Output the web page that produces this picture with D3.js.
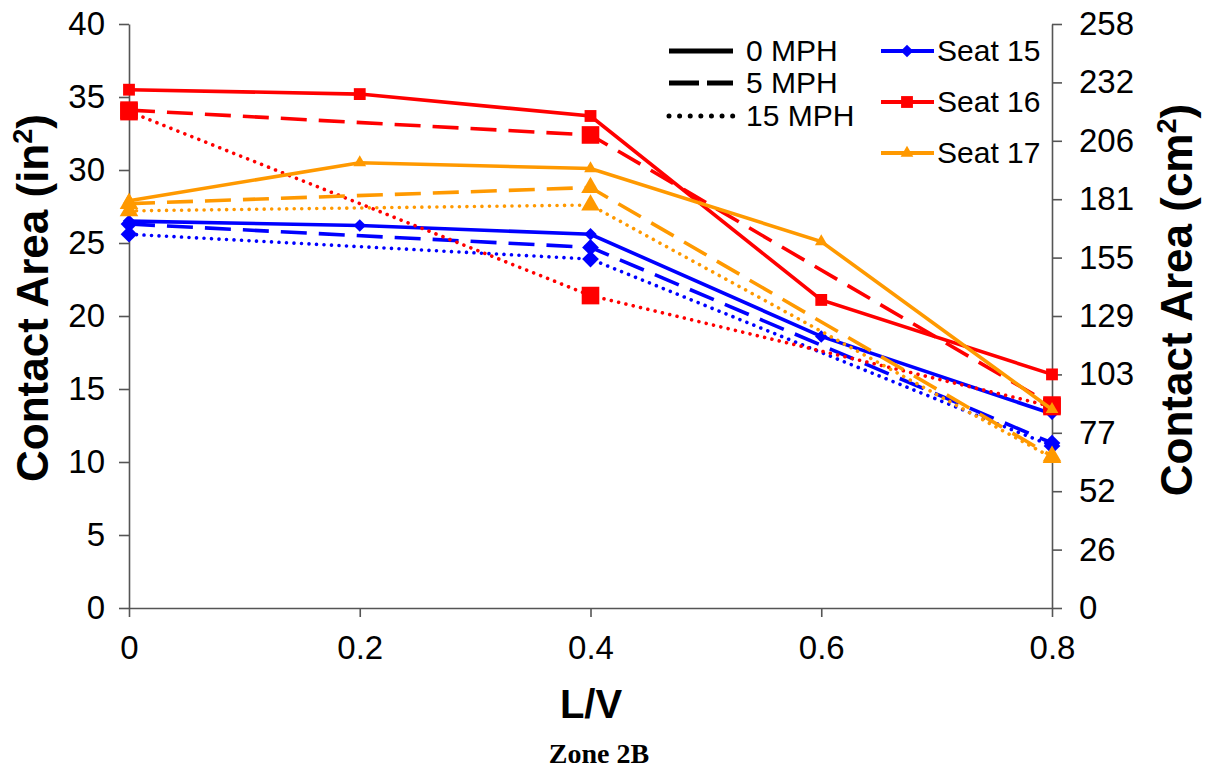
<!DOCTYPE html>
<html>
<head>
<meta charset="utf-8">
<script src="https://cdn.jsdelivr.net/npm/d3@7"></script>
<style>
  body { margin: 0; background: #ffffff; }
  svg { display: block; }
</style>
</head>
<body>
<svg id="chart" width="1205" height="772"></svg>
<script>
// L/V ratios: 0 MPH runs were measured at every ratio, 5 and 15 MPH at three.
const lvFull = [0, 0.2, 0.4, 0.6, 0.8];
const lvPartial = [0, 0.4, 0.8];

// Contact area, in^2
const seat15_0mph  = [26.5, 26.2, 25.6, 18.6, 13.3];
const seat15_5mph  = [26.3, 24.7, 11.3];
const seat15_15mph = [25.6, 23.9, 11.1];
const seat16_0mph  = [35.5, 35.2, 33.7, 21.1, 16.0];
const seat16_5mph  = [34.1, 32.4, 13.9];
const seat16_15mph = [34.0, 21.4, 13.8];
const seat17_0mph  = [27.9, 30.5, 30.1, 25.1, 13.6];
const seat17_5mph  = [27.7, 28.8, 10.4];
const seat17_15mph = [27.2, 27.6, 10.3];

const seatNames = ["Seat 15", "Seat 16", "Seat 17"];
const speedNames = ["0 MPH", "5 MPH", "15 MPH"];
const xTickValues = [0, 0.2, 0.4, 0.6, 0.8];
const inTickValues = [0, 5, 10, 15, 20, 25, 30, 35, 40];
const IN2_TO_CM2 = 6.4516;

const colors = { "Seat 15": "#0000FF", "Seat 16": "#FF0000", "Seat 17": "#FF9900" };
const shapes = { "Seat 15": "diamond", "Seat 16": "square", "Seat 17": "triangle" };
const dashes = { "0 MPH": null, "5 MPH": "26,12", "15 MPH": "0.01,7.5" };

const series = [
  { seat: "Seat 15", speed: "0 MPH",  x: lvFull,    y: seat15_0mph },
  { seat: "Seat 15", speed: "5 MPH",  x: lvPartial, y: seat15_5mph },
  { seat: "Seat 15", speed: "15 MPH", x: lvPartial, y: seat15_15mph },
  { seat: "Seat 16", speed: "0 MPH",  x: lvFull,    y: seat16_0mph },
  { seat: "Seat 16", speed: "5 MPH",  x: lvPartial, y: seat16_5mph },
  { seat: "Seat 16", speed: "15 MPH", x: lvPartial, y: seat16_15mph },
  { seat: "Seat 17", speed: "0 MPH",  x: lvFull,    y: seat17_0mph },
  { seat: "Seat 17", speed: "5 MPH",  x: lvPartial, y: seat17_5mph },
  { seat: "Seat 17", speed: "15 MPH", x: lvPartial, y: seat17_15mph }
];

const svg = d3.select("#chart");
const plot = { left: 129, right: 1052, top: 24, bottom: 608 };

const x = d3.scaleLinear().domain([0, 0.8]).range([plot.left, plot.right]);
const y = d3.scaleLinear().domain([0, 40]).range([plot.bottom, plot.top]);
const yCm = d3.scaleLinear().domain([0, 40 * IN2_TO_CM2]).range([plot.bottom, plot.top]);
const cmTickValues = d3.range(0, 11).map(i => i * 4 * IN2_TO_CM2);

const axisColor = "#555555";
const tickFont = "'Liberation Sans', Arial, sans-serif";

function styleAxis(g) {
  g.select(".domain").attr("stroke", axisColor).attr("stroke-width", 1.6);
  g.selectAll(".tick line").attr("stroke", axisColor).attr("stroke-width", 1.6);
  g.selectAll(".tick text")
    .attr("fill", "#000")
    .style("font-family", tickFont)
    .style("font-size", "33px");
}

// Axes
svg.append("g")
  .attr("transform", `translate(0,${plot.bottom})`)
  .call(d3.axisBottom(x).tickValues(xTickValues).tickFormat(d3.format("~g"))
        .tickSize(9).tickSizeOuter(0).tickPadding(19))
  .call(styleAxis);

svg.append("g")
  .attr("transform", `translate(${plot.left},0)`)
  .call(d3.axisLeft(y).tickValues(inTickValues).tickSize(10).tickSizeOuter(0).tickPadding(14))
  .call(styleAxis);

svg.append("g")
  .attr("transform", `translate(${plot.right},0)`)
  .call(d3.axisRight(yCm).tickValues(cmTickValues).tickFormat(d => Math.round(d))
        .tickSize(10).tickSizeOuter(0).tickPadding(17))
  .call(styleAxis);

// Marker path generator
function markerPath(shape, big) {
  if (shape === "square") {
    return d3.symbol().type(d3.symbolSquare).size(big ? 310 : 140)();
  }
  if (shape === "diamond") {
    return d3.symbol().type(d3.symbolSquare).size(big ? 140 : 78)();
  }
  return d3.symbol().type(d3.symbolTriangle).size(big ? 150 : 70)();
}

const line = d3.line().x(d => x(d[0])).y(d => y(d[1]));

// Series: lines then markers, in drawing order
series.forEach(s => {
  const pts = s.x.map((v, i) => [v, s.y[i]]);
  const c = colors[s.seat];
  const isSolid = s.speed === "0 MPH";
  const g = svg.append("g").attr("class", "series");
  g.append("path")
    .datum(pts)
    .attr("d", line)
    .attr("fill", "none")
    .attr("stroke", c)
    .attr("stroke-width", 3.6)
    .attr("stroke-linecap", s.speed === "15 MPH" ? "round" : "butt")
    .attr("stroke-dasharray", dashes[s.speed]);
  const shape = shapes[s.seat];
  g.selectAll("path.mark")
    .data(pts)
    .join("path")
    .attr("class", "mark")
    .attr("d", markerPath(shape, !isSolid))
    .attr("transform", d => `translate(${x(d[0])},${y(d[1])})` + (shape === "diamond" ? " rotate(45)" : ""))
    .attr("fill", c);
});

// Line-style legend
const styleLegend = svg.append("g").attr("class", "legend-speed");
speedNames.forEach((name, i) => {
  const ly = [51, 83, 116][i];
  styleLegend.append("line")
    .attr("x1", 669).attr("x2", 733).attr("y1", ly).attr("y2", ly)
    .attr("stroke", "#000")
    .attr("stroke-width", 5)
    .attr("stroke-linecap", name === "15 MPH" ? "round" : "butt")
    .attr("stroke-dasharray", name === "5 MPH" ? "30,8" : name === "15 MPH" ? "0.01,10.6" : null);
  styleLegend.append("text")
    .attr("x", 746).attr("y", ly + 10)
    .attr("fill", "#000")
    .style("font-family", tickFont)
    .style("font-size", "30px")
    .text(name);
});

// Seat legend
const seatLegend = svg.append("g").attr("class", "legend-seat");
seatNames.forEach((name, i) => {
  const ly = [51, 102, 153][i];
  const c = colors[name];
  seatLegend.append("line")
    .attr("x1", 881).attr("x2", 934).attr("y1", ly).attr("y2", ly)
    .attr("stroke", c).attr("stroke-width", 4);
  seatLegend.append("path")
    .attr("d", markerPath(shapes[name], false))
    .attr("transform", `translate(907,${ly})` + (shapes[name] === "diamond" ? " rotate(45)" : ""))
    .attr("fill", c);
  seatLegend.append("text")
    .attr("x", 937).attr("y", ly + 10)
    .attr("fill", "#000")
    .style("font-family", tickFont)
    .style("font-size", "30px")
    .text(name);
});

// Axis titles
const titleFont = "'Liberation Sans', Arial, sans-serif";

function axisTitle(tx, ty, unit) {
  const t = svg.append("text")
    .attr("transform", `translate(${tx},${ty}) rotate(-90)`)
    .attr("text-anchor", "middle")
    .style("font-family", titleFont)
    .style("font-size", "44px")
    .style("font-weight", "bold");
  t.append("tspan").text(`Contact Area (${unit}`);
  t.append("tspan").attr("dy", -16).style("font-size", "27px").text("2");
  t.append("tspan").attr("dy", 16).text(")");
}
axisTitle(48, 298, "in");
axisTitle(1192, 300, "cm");

svg.append("text")
  .attr("x", 591).attr("y", 718)
  .attr("text-anchor", "middle")
  .style("font-family", titleFont)
  .style("font-size", "40px")
  .style("font-weight", "bold")
  .text("L/V");

svg.append("text")
  .attr("x", 599).attr("y", 763)
  .attr("text-anchor", "middle")
  .style("font-family", "'Liberation Serif', 'Times New Roman', serif")
  .style("font-size", "28px")
  .style("font-weight", "bold")
  .text("Zone 2B");
</script>
</body>
</html>
